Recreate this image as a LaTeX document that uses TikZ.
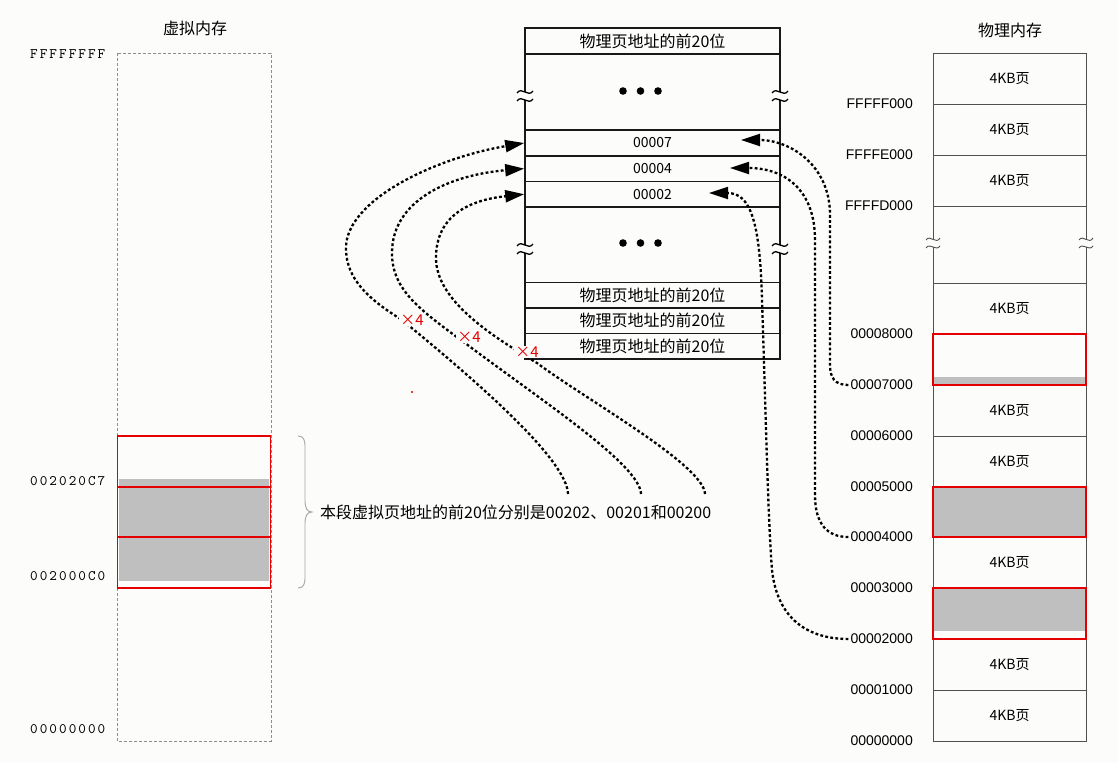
\documentclass[tikz,border=0pt]{standalone}
\usepackage{fontspec}
\setmainfont{Noto Sans CJK SC}
\newfontfamily\addrfont{Liberation Sans}
\newfontfamily\vfont[LetterSpace=14]{lmmono10-regular.otf}
\usetikzlibrary{arrows.meta}
\definecolor{bgc}{RGB}{252,252,251}
\definecolor{grayfill}{RGB}{191,191,191}
\definecolor{pline}{RGB}{80,80,80}
\definecolor{redb}{RGB}{228,0,0}
\tikzset{
  ptline/.style={draw=black!90, line width=1.6pt},
  prow/.style={ptline, minimum width=255pt, minimum height=25.6pt, inner sep=0pt, font=\fontsize{14}{16}\selectfont},
  pcell/.style={draw=pline, line width=1pt, minimum width=153pt, inner sep=0pt, font=\fontsize{14}{16}\selectfont},
  redcell/.style={draw=redb, line width=1.5pt, minimum width=153pt, inner sep=0pt},
  paddr/.style={anchor=east, inner sep=2pt, font=\addrfont\fontsize{14}{16}\selectfont},
  vaddr/.style={anchor=west, inner sep=0pt, text=black, font=\vfont\fontsize{14.5}{16}\selectfont},
  conn/.style={line width=2.3pt, dash pattern=on 2.8pt off 2.3pt, -{Triangle[length=19pt,width=12pt]}},
  xlab/.style={text=redb, fill=bgc, inner sep=1pt, font=\fontsize{15}{16}\selectfont},
  ttl/.style={font=\fontsize{16}{18}\selectfont},
  brk/.pic={
    \fill[bgc] (-10,-4) rectangle (10,4);
    \draw[line width=1.3pt, black] (-8,-3) .. controls (-3,-10) and (3,2) .. (8,-5);
    \draw[line width=1.3pt, black] (-8,5) .. controls (-3,-2) and (3,10) .. (8,3);
  },
  brkg/.pic={
    \fill[bgc] (-10,-4) rectangle (10,4);
    \draw[line width=0.9pt, pline] (-7,-3) .. controls (-3,-9) and (3,2) .. (7,-5);
    \draw[line width=0.9pt, pline] (-7,5) .. controls (-3,-1) and (3,9) .. (7,3);
  }
}
\begin{document}
\begin{tikzpicture}[x=1pt,y=-1pt]
\useasboundingbox[fill=bgc] (0,0) rectangle (1118,763);

% ---------------- virtual memory ----------------
\node[ttl] (vtitle) at (195,28) {虚拟内存};
\draw[black!45, line width=0.9pt, dash pattern=on 3pt off 2pt] (117,53) rectangle (271,741);
\fill[grayfill] (119,479) rectangle (269,581);
\node[redcell, minimum height=51pt] (v3) at (194,461.5) {};
\node[redcell, minimum height=50pt] (v2) at (194,512) {};
\node[redcell, minimum height=51pt] (v1) at (194,562.5) {};
\node[vaddr] (vtop) at (30,54) {FFFFFFFF};
\node[vaddr] (vhi) at (30,481) {002020C7};
\node[vaddr] (vlo) at (30,576) {002000C0};
\node[vaddr] (vbot) at (30,729) {00000000};

% brace
\draw[black!35, line width=0.9pt] (298,436) .. controls (304,436) and (305,440) .. (305,448) -- (305,500)
  .. controls (305,508) and (307,512) .. (312,512) .. controls (307,512) and (305,516) .. (305,524)
  -- (305,576) .. controls (305,584) and (304,588) .. (298,588);
\node[anchor=west, inner sep=0pt, font=\fontsize{16}{18}\selectfont] (seg) at (320,512) {本段虚拟页地址的前20位分别是00202、00201和00200};
\coordinate (s1) at (568,494);
\coordinate (s2) at (641,494);
\coordinate (s3) at (705,494);

% ---------------- page table ----------------
\node[prow, font=\fontsize{16}{18}\selectfont] (r0) at (652.5,41) {物理页地址的前20位};
\draw[ptline] (525,53.8) rectangle (780,130.2);
\node[prow] (r7) at (652.5,143) {00007};
\node[prow] (r4) at (652.5,168.6) {00004};
\node[prow] (r2) at (652.5,194.2) {00002};
\draw[ptline] (525,207) rectangle (780,282.4);
\node[prow, font=\fontsize{16}{18}\selectfont] (rb3) at (652.5,295.2) {物理页地址的前20位};
\node[prow, font=\fontsize{16}{18}\selectfont] (rb2) at (652.5,320.8) {物理页地址的前20位};
\node[prow, font=\fontsize{16}{18}\selectfont] (rb1) at (652.5,346.4) {物理页地址的前20位};
\foreach \x in {623,640.5,658} {
  \fill (\x,91) circle (3.8);
  \fill (\x,243) circle (3.8);
}
\pic at (525,96) {brk};
\pic at (780,96) {brk};
\pic at (525,249) {brk};
\pic at (780,249) {brk};
\coordinate (t7) at (741,140);
\coordinate (t4) at (730,168);
\coordinate (t2) at (709,193);

% ---------------- physical memory ----------------
\node[ttl] (ptitle) at (1010,30) {物理内存};
\node[pcell, minimum height=51pt] (m1) at (1009.5,78.5) {4KB页};
\node[pcell, minimum height=51pt] (m2) at (1009.5,129.5) {4KB页};
\node[pcell, minimum height=51pt] (m3) at (1009.5,180.5) {4KB页};
\draw[pline, line width=1pt] (933,206) -- (933,283) (1086,206) -- (1086,283);
\pic at (933,243) {brkg};
\pic at (1086,243) {brkg};
\node[pcell, minimum height=51pt] (m9) at (1009.5,308.5) {4KB页};
\node[pcell, minimum height=51pt] (m6) at (1009.5,410.5) {4KB页};
\node[pcell, minimum height=51pt] (m5) at (1009.5,461.5) {4KB页};
\node[pcell, minimum height=51pt] (m3b) at (1009.5,563) {4KB页};
\node[pcell, minimum height=51pt] (m1b) at (1009.5,664.5) {4KB页};
\node[pcell, minimum height=51pt] (m0) at (1009.5,715.5) {4KB页};
\fill[grayfill] (934,377) rectangle (1085.5,385);
\fill[grayfill] (934,488) rectangle (1085.5,537);
\fill[grayfill] (934,589) rectangle (1085.5,631);
\node[redcell, minimum height=51pt] (p7) at (1009.5,359.5) {};
\node[redcell, minimum height=50pt] (p4) at (1009.5,512) {};
\node[redcell, minimum height=51pt] (p2) at (1009.5,613.5) {};

\node[paddr] (aF) at (915,104) {FFFFF000};
\node[paddr] (aE) at (915,155) {FFFFE000};
\node[paddr] (aD) at (915,206) {FFFFD000};
\node[paddr] (a8) at (915,334) {00008000};
\node[paddr] (a7) at (915,385) {00007000};
\node[paddr] (a6) at (915,436) {00006000};
\node[paddr] (a5) at (915,487) {00005000};
\node[paddr] (a4) at (915,537) {00004000};
\node[paddr] (a3) at (915,588) {00003000};
\node[paddr] (a2) at (915,639) {00002000};
\node[paddr] (a1) at (915,690) {00001000};
\node[paddr] (a0) at (915,741) {00000000};

% ---------------- connectors ----------------
\draw[conn] (s1) .. controls (567,462) and (490,392) .. (402,320)
  .. controls (370,300) and (346,280) .. (346,248)
  .. controls (346,200) and (435,158) .. (r7.west);
\draw[conn] (s2) .. controls (640,465) and (545,403) .. (465,343)
  .. controls (420,310) and (392,290) .. (392,253)
  .. controls (392,200) and (450,175) .. (r4.west);
\draw[conn] (s3) .. controls (704,465) and (585,399) .. (537,363)
  .. controls (490,335) and (436,300) .. (436,258)
  .. controls (436,215) and (470,200) .. (r2.west);

\draw[conn] (a7.west) .. controls (835,385) and (830,378) .. (830,365) -- (830,215)
  .. controls (830,165) and (790,140) .. (t7);
\draw[conn] (a4.west) .. controls (828,537) and (815,525) .. (815,495) -- (815,240)
  .. controls (815,190) and (785,168) .. (t4);
\draw[conn] (a2.west) .. controls (815,639) and (778,625) .. (772,570)
  .. controls (768,520) and (766,420) .. (762,300)
  .. controls (760,220) and (750,193) .. (t2);

\node[xlab] (x1) at (412,320) {×4};
\node[xlab] (x2) at (469,337) {×4};
\node[xlab] (x3) at (527,352) {×4};
\fill[redb] (412,392) circle (1.1);
\end{tikzpicture}
\end{document}
